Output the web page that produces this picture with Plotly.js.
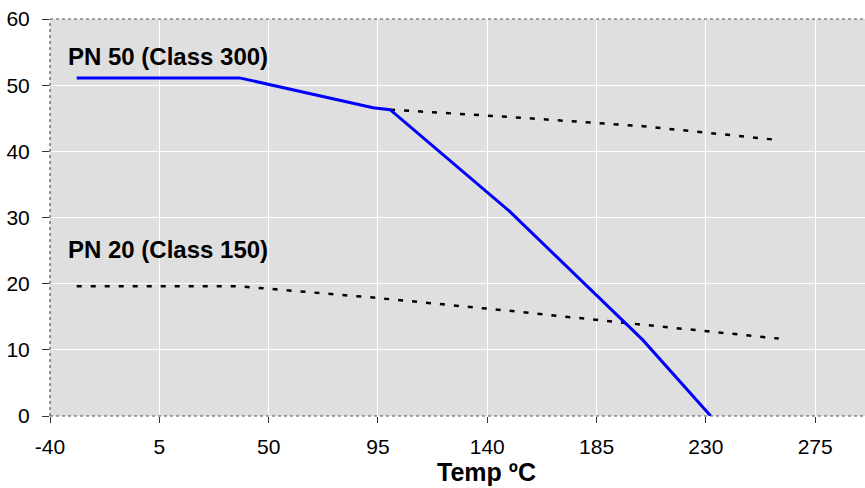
<!DOCTYPE html>
<html>
<head>
<meta charset="utf-8">
<script src="https://cdn.plot.ly/plotly-3.0.1.min.js"></script>
<style>html,body{margin:0;padding:0;background:#fff;overflow:hidden;}#chart{width:865px;height:488px;}</style>
</head>
<body>
<div id="chart"></div>
<script>
// Temperatures (°C) and pressure ratings (bar)
const tempValve = [-29, 38, 93, 100, 149, 204, 232];
const pressValve = [51.1, 51.1, 46.6, 46.3, 31.0, 11.5, 0];

const tempPN50 = [100, 149, 204, 232, 260];
const pressPN50 = [46.3, 45.2, 43.8, 42.7, 41.7];

const tempPN20 = [-29, 38, 93, 149, 204, 232, 260];
const pressPN20 = [19.6, 19.6, 17.9, 15.9, 13.8, 12.8, 11.7];

const xTicks = [-40, 5, 50, 95, 140, 185, 230, 275];
const yTicks = [0, 10, 20, 30, 40, 50, 60];
const labelPN50 = "PN 50 (Class 300)";
const labelPN20 = "PN 20 (Class 150)";
const xTitle = "Temp ºC";

const dotLine = {color: "#000000", width: 2.5, dash: "5px,9px"};

const traces = [
  {x: tempPN50, y: pressPN50, mode: "lines", line: dotLine, hoverinfo: "x+y", showlegend: false},
  {x: tempPN20, y: pressPN20, mode: "lines", line: dotLine, hoverinfo: "x+y", showlegend: false},
  {x: tempValve, y: pressValve, mode: "lines", line: {color: "#0000ff", width: 3}, hoverinfo: "x+y", showlegend: false}
];

const font = "Liberation Sans, Arial, sans-serif";

const layout = {
  width: 865, height: 488,
  margin: {l: 50, r: 0, t: 19, b: 72, pad: 0},
  paper_bgcolor: "#ffffff",
  plot_bgcolor: "#dfdfdf",
  font: {family: font, size: 21, color: "#000"},
  xaxis: {
    range: [-40, 295.5],
    tickmode: "array", tickvals: xTicks, ticktext: xTicks.map(String),
    ticks: "outside", ticklen: 6, tickcolor: "#333", tickwidth: 1,
    ticklabelstandoff: 6,
    showgrid: true, gridcolor: "#ffffff", gridwidth: 1,
    zeroline: false, showline: false,
    tickfont: {family: font, size: 21, color: "#000"}
  },
  yaxis: {
    range: [0, 60],
    tickmode: "array", tickvals: yTicks, ticktext: yTicks.map(String),
    ticks: "outside", ticklen: 7, tickcolor: "#333", tickwidth: 1,
    ticklabelstandoff: 8,
    showgrid: true, gridcolor: "#ffffff", gridwidth: 1,
    zeroline: false, showline: false,
    tickfont: {family: font, size: 21, color: "#000"}
  },
  shapes: [
    {type: "line", xref: "paper", yref: "paper", x0: 0, x1: 1.01, y0: 1, y1: 1, line: {color: "#555", width: 1.2, dash: "3px,3px"}},
    {type: "line", xref: "paper", yref: "paper", x0: 0, x1: 1.01, y0: 0, y1: 0, line: {color: "#555", width: 1.2, dash: "3px,3px"}},
    {type: "line", xref: "paper", yref: "paper", x0: 0, x1: 0, y0: 0, y1: 1, line: {color: "#555", width: 1.2, dash: "3px,3px"}}
  ],
  annotations: [
    {text: labelPN50, x: -33.5, y: 54.3, xref: "x", yref: "y", xanchor: "left", yanchor: "middle", showarrow: false,
     font: {family: font, size: 24, color: "#000", weight: "bold"}},
    {text: labelPN20, x: -33.5, y: 25.2, xref: "x", yref: "y", xanchor: "left", yanchor: "middle", showarrow: false,
     font: {family: font, size: 24, color: "#000", weight: "bold"}},
    {text: xTitle, x: 0.536, y: 0, xref: "paper", yref: "paper", yshift: -72, xanchor: "center", yanchor: "bottom", showarrow: false,
     font: {family: font, size: 25, color: "#000", weight: "bold"}}
  ]
};

Plotly.newPlot("chart", traces, layout, {displayModeBar: false, staticPlot: true});
</script>
</body>
</html>
